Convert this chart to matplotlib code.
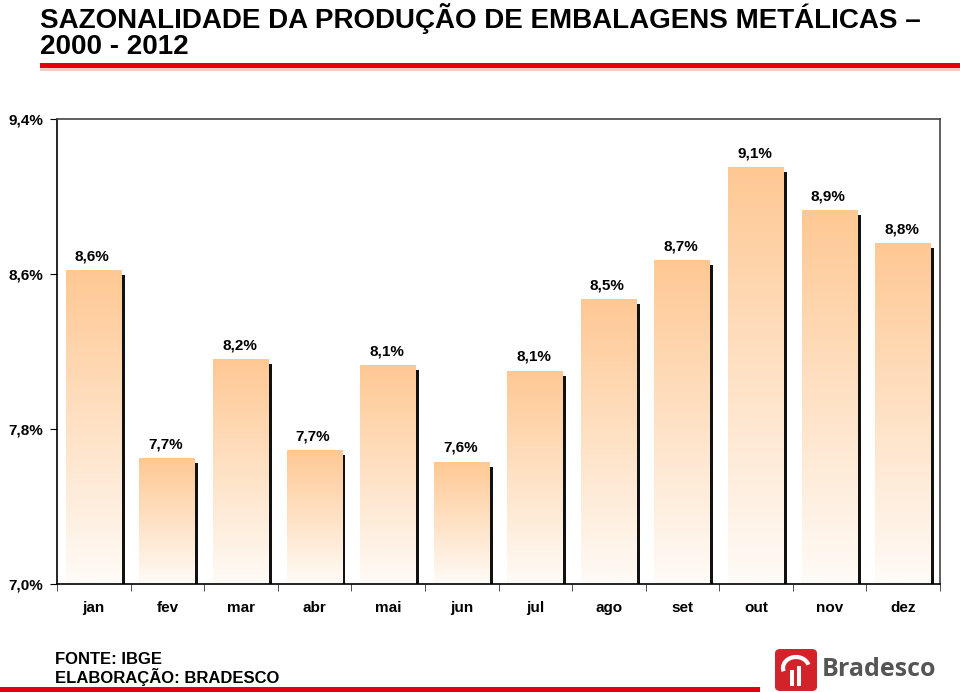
import matplotlib
matplotlib.use("Agg")
import matplotlib.pyplot as plt
import numpy as np
from matplotlib.patches import Rectangle, FancyBboxPatch, Arc
from matplotlib.colors import LinearSegmentedColormap

months = ["jan", "fev", "mar", "abr", "mai", "jun", "jul", "ago", "set", "out", "nov", "dez"]
values = [8.62, 7.65, 8.16, 7.69, 8.13, 7.63, 8.10, 8.47, 8.67, 9.15, 8.93, 8.76]
labels = ["8,6%", "7,7%", "8,2%", "7,7%", "8,1%", "7,6%", "8,1%", "8,5%", "8,7%", "9,1%", "8,9%", "8,8%"]
yticks = [7.0, 7.8, 8.6, 9.4]
ytick_labels = ["7,0%", "7,8%", "8,6%", "9,4%"]

plt.rcParams['font.family'] = ['Liberation Sans', 'DejaVu Sans']

fig = plt.figure(figsize=(9.6, 6.92), dpi=100)
ax = fig.add_axes([57/960, 108/692, 883/960, 465/692])

x = np.arange(len(months))
w = 0.76
ymin = 7.0

cmap = LinearSegmentedColormap.from_list("peach", ["#FFFBF7", "#FEC893"])
grad = np.linspace(0, 1, 256).reshape(-1, 1)

for xi, v, lab in zip(x, values, labels):
    sh = Rectangle((xi - w/2 + 0.04, ymin), w, v - ymin - 0.025, facecolor="#111111",
                   edgecolor="none", zorder=2)
    ax.add_patch(sh)
    bar = ax.bar(xi, v - ymin, bottom=ymin, width=w, color="none", edgecolor="none", zorder=3)[0]
    im = ax.imshow(grad, extent=(xi - w/2, xi + w/2, ymin, v), origin="lower",
                   cmap=cmap, aspect="auto", zorder=3)
    im.set_clip_path(bar)
    ax.annotate(lab, (xi - 0.02, v), xytext=(0, 5), textcoords="offset points",
                ha="center", va="bottom", fontsize=11, fontweight="bold", zorder=5)

ax.set_xlim(-0.5, len(months) - 0.5)
ax.set_ylim(7.0, 9.4)

ax.set_yticks(yticks)
ax.set_yticklabels(ytick_labels, fontsize=11, fontweight="bold")
ax.set_xticks(x)
ax.set_xticklabels(months, fontsize=11, fontweight="bold")
ax.set_xticks(np.arange(-0.5, len(months), 1), minor=True)
ax.tick_params(axis="x", which="major", length=0, pad=12)
ax.tick_params(axis="x", which="minor", length=5, direction="out", color="#333333")
ax.tick_params(axis="y", which="major", length=5, direction="out", pad=5)

for s in ["left", "bottom"]:
    ax.spines[s].set_color("#000000")
    ax.spines[s].set_linewidth(1.2)
    ax.spines[s].set_zorder(6)
for s in ["top", "right"]:
    ax.spines[s].set_color("#444444")
    ax.spines[s].set_linewidth(1.2)
    ax.spines[s].set_zorder(6)

# Title
fig.text(40/960, 1 - 18/692, "SAZONALIDADE DA PRODUÇÃO DE EMBALAGENS METÁLICAS –",
         fontsize=20, fontweight="bold", va="center", ha="left")
fig.text(40/960, 1 - 47/692, "2000 - 2012",
         fontsize=20, fontweight="bold", va="center", ha="left")

# red line under title
fig.add_artist(Rectangle((40/960, 1 - 71/692), 920/960, 4/692, transform=fig.transFigure,
                         facecolor="#F7C9C9", edgecolor="none"))
fig.add_artist(Rectangle((40/960, 1 - 68/692), 920/960, 5/692, transform=fig.transFigure,
                         facecolor="#E3000F", edgecolor="none"))

# footer
fig.text(55/960, 1 - 659/692, "FONTE: IBGE", fontsize=12, fontweight="bold", va="center", ha="left")
fig.text(55/960, 1 - 677/692, "ELABORAÇÃO: BRADESCO", fontsize=12, fontweight="bold", va="center", ha="left")
fig.add_artist(Rectangle((0, 0), 760/960, 5/692, transform=fig.transFigure,
                         facecolor="#E3000F", edgecolor="none"))

# Bradesco logo
lx0, ly0, lw, lh = 775/960, 1 - 691/692, 42/960, 42/692
fig.add_artist(FancyBboxPatch((lx0, ly0), lw, lh, boxstyle="round,pad=0,rounding_size=0.006",
                              transform=fig.transFigure, facecolor="#D2232A", edgecolor="none"))
cx, cy = 796/960, 1 - 668/692
fig.add_artist(Arc((cx, cy), 26/960, 22/692, theta1=20, theta2=200, transform=fig.transFigure,
                   color="white", lw=3))
fig.add_artist(Rectangle((790/960, 1 - 686/692), 4/960, 16/692, transform=fig.transFigure,
                         facecolor="white", edgecolor="none"))
fig.add_artist(Rectangle((797/960, 1 - 686/692), 4/960, 20/692, transform=fig.transFigure,
                         facecolor="white", edgecolor="none"))
fig.text(822/960, 1 - 670/692, "Bradesco", fontsize=18, fontweight="bold", color="#555555",
         va="center", ha="left", family=['Open Sans', 'DejaVu Sans'])

fig.savefig("out.png", dpi=100)
